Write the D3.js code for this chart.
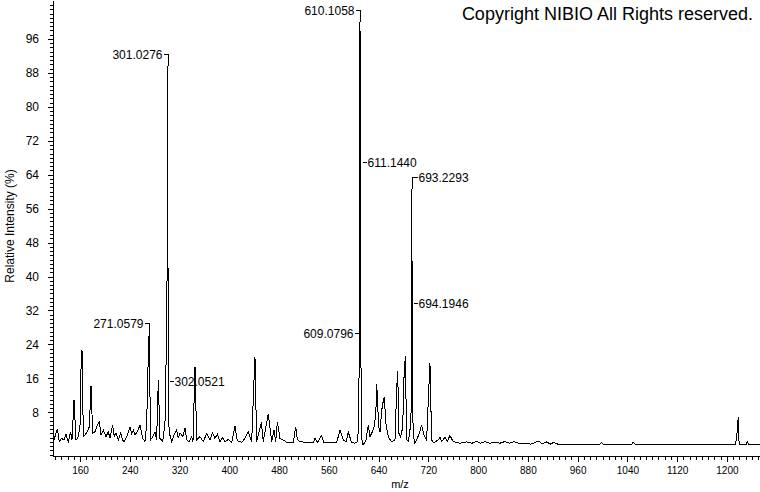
<!DOCTYPE html>
<html><head><meta charset="utf-8">
<script src="https://cdn.jsdelivr.net/npm/d3@7"></script>
<style>
body{margin:0;background:#fff}
svg{display:block;background:#fff}
text{font-family:"Liberation Sans",Arial,sans-serif;fill:#000}
</style>
</head><body>
<svg id="chart" width="760" height="492"></svg>
<script>
// ---- Data ----
const mzValues = [
 117,123.6,126.8,130.5,134.3,137.5,141.2,145,147.1,150.4,153.6,156.3,160,161.3,163.2,165.4,168,171.8,175,177.7,
 180.4,184.1,186.8,191.1,193.8,197.5,201.8,205.5,208.2,212.5,215.2,217.9,221.6,225.4,228.6,230.7,235,240.4,243.1,245.7,
 248.4,252.2,256.5,260.7,264.5,267.2,269.8,271.06,273.6,276.8,280.6,283.2,285.9,288.6,292.9,296.6,299.6,300.3,300.7,301.03,
 301.6,302.05,303.3,304.7,307.4,310.1,315.4,318.1,320.8,325.1,328.8,331.5,335.8,339.6,341.6,343.3,344.9,347.6,352.9,358.2,
 363.7,369,372.7,377,380.7,385,389.4,393.1,398.4,403.8,409.2,412.9,420,425.2,430.6,436,439.8,441.3,444,449.8,
 451.5,454.6,462.7,468.2,471.9,474.6,477.2,481.5,486.8,492.3,502.9,506.7,509.3,513.6,524.4,535,537.8,541.5,548.5,552.2,
 572.6,578,583.3,587.6,591.3,596.7,602,606,607.6,608.4,609.08,609.6,610.11,610.6,611.14,611.7,612.4,613.6,615.4,619.8,
 623.5,626.2,629.9,632.6,635.5,637,640.2,642.3,645,647.6,649.2,651.9,655.6,661,666.4,669.1,670.7,672.8,675.6,678.8,
 680.9,683,685.2,687.9,690.5,692.2,693.23,693.7,694.19,695.2,697.4,701.2,705.4,709.2,713,717.3,719.9,722.6,725.3,729.1,
 733.4,736,738.7,741.4,746.7,750.4,754.7,760,770,781.6,790,797.7,804,811,819,827.1,835,843.2,851,857.7,
 865,872.6,885,896.8,903,910.2,916,922,928,996,998.6,1001,1047,1049.4,1052,1214,1216.6,1218.2,1219.6,1231,
 1232.7,1234.5,1253.2
];
const intensities = [
 1.0,4.0,1.07,1.86,1.47,2.79,1.07,3.41,1.47,10.9,1.47,1.86,4.58,17.2,22.6,2.24,2.63,3.41,4.58,14.1,
 3.02,3.41,4.58,5.74,2.63,3.8,2.24,3.41,1.86,4.97,2.24,3.02,1.47,3.02,1.47,1.07,2.24,4.58,3.02,3.8,
 2.63,3.41,4.97,1.86,1.07,5.36,21.5,26.3,1.47,2.24,3.41,1.47,15.6,1.86,1.07,5.36,30,51,70,89.6,
 30,15.4,2.6,2.63,1.07,2.24,3.8,1.86,3.18,2.24,4.2,1.47,1.07,2.24,1.0,10.0,18.6,1.47,2.25,1.08,
 3.02,1.47,3.18,1.86,2.8,1.08,2.1,1.08,1.6,0.9,4.7,1.3,0.9,1.86,3.4,1.08,15.8,21.0,1.08,4.6,
 5.6,1.08,7.6,1.08,3.8,1.08,5.7,1.86,1.47,0.9,0.84,4.6,1.6,1.08,0.84,0.84,1.9,0.84,2.5,0.84,
 0.84,3.8,1.47,1.0,3.3,0.84,0.7,1.0,4.0,12.7,26.7,20,100,80,67,20,5,0.8,0.3,1.47,
 5.0,2.2,3.4,4.5,7.2,14.7,4.5,3.4,8.4,10.7,11.5,5.3,2.2,1.07,1.47,13.5,17.8,3.0,2.2,4.5,
 16.2,21.3,1.5,1.1,3.8,8,60.6,45,33.8,6,0.6,1.47,3.0,5.0,2.6,1.5,10.7,19.7,1.5,0.7,
 1.3,1.5,2.06,1.1,2.1,1.1,2.5,1.1,0.7,1.0,0.7,1.1,0.7,1.1,0.7,1.0,0.7,1.1,0.7,1.1,
 0.7,0.6,0.5,1.2,0.6,1.0,0.5,0.9,0.5,0.5,0.9,0.5,0.5,0.9,0.5,0.5,3.5,6.8,0.5,0.5,
 1.1,0.5,0.5
];
const labelTexts = ["301.0276","610.1058","271.0579","693.2293","611.1440","609.0796","694.1946","302.0521"];
const labelIntensities = [89.6,100,26.3,60.6,67,26.7,33.8,15.4];
const labelKinds = ["bracketLeft","bracketLeft","bracketLeft","bracketRight","sideRight","sideLeft","sideRight","sideRight"];
const xMajorTicks = [160,240,320,400,480,560,640,720,800,880,960,1040,1120,1200];
const xMinorTicks = d3.range(120, 1251, 10);
const yMajorTicks = [8,16,24,32,40,48,56,64,72,80,88,96];
const yMinorTicks = d3.range(-2, 105, 1);
const xTitle = "m/z";
const yTitle = "Relative Intensity (%)";
const copyright = "Copyright NIBIO All Rights reserved.";

// ---- Scales ----
const svg = d3.select("#chart");
const x = d3.scaleLinear().domain([116.6, 1253.2]).range([53, 760]);
const y = d3.scaleLinear().domain([0, 100]).range([446.2, 22]);
const yAxisScale = d3.scaleLinear().domain([y.invert(456), y.invert(0)]).range([456, 0]);
const axisY0 = 456;

// ---- Axes ----
const gx = svg.append("g").attr("transform", `translate(0,${axisY0})`);
gx.call(d3.axisBottom(x).tickValues(xMinorTicks).tickSize(4).tickSizeOuter(0).tickFormat(""));
const gxMaj = svg.append("g").attr("transform", `translate(0,${axisY0})`);
gxMaj.call(d3.axisBottom(x).tickValues(xMajorTicks).tickSize(6).tickSizeOuter(0).tickFormat(d3.format("d")));
gxMaj.select(".domain").remove();
gxMaj.selectAll("text").attr("y", 14).attr("dy", "0.35em").style("font-size", "10px")
  .style("font-family", '"Liberation Sans",Arial,sans-serif');

const gy = svg.append("g").attr("transform", "translate(53,0)");
gy.call(d3.axisLeft(yAxisScale).tickValues(yMinorTicks).tickSize(3).tickSizeOuter(0).tickFormat(""));
const gyMaj = svg.append("g").attr("transform", "translate(53,0)");
gyMaj.call(d3.axisLeft(yAxisScale).tickValues(yMajorTicks).tickSize(5).tickSizeOuter(0).tickPadding(9).tickFormat(d3.format("d")));
gyMaj.select(".domain").remove();
gyMaj.selectAll("text").style("font-size", "12px").style("font-family", '"Liberation Sans",Arial,sans-serif');
svg.selectAll(".tick line, .domain").attr("stroke", "#000").attr("shape-rendering", "crispEdges");

// ---- Spectrum ----
const pts = mzValues.map((m, i) => [m, intensities[i]]);
svg.append("path")
  .datum(pts)
  .attr("fill", "none")
  .attr("stroke", "#000")
  .attr("stroke-width", 1)
  .attr("shape-rendering", "crispEdges")
  .attr("d", d3.line().x(d => x(d[0])).y(d => y(d[1])));

// ---- Peak labels ----
const gl = svg.append("g");
labelTexts.forEach((t, i) => {
  const xp = Math.round(x(+t)) + 0.5;
  const yp = y(labelIntensities[i]);
  const kind = labelKinds[i];
  let ly, d, tx, anchor;
  if (kind === "bracketLeft") {
    ly = Math.round(yp - 12) + 0.5;
    d = `M${xp - 5},${ly}H${xp}V${yp}`; tx = xp - 6; anchor = "end";
  } else if (kind === "bracketRight") {
    ly = Math.round(yp - 12) + 0.5;
    d = `M${xp + 5},${ly}H${xp}V${yp}`; tx = xp + 6; anchor = "start";
  } else if (kind === "sideRight") {
    ly = Math.round(yp) + 0.5;
    d = `M${xp + 1},${ly}H${xp + 5}`; tx = xp + 6; anchor = "start";
  } else {
    ly = Math.round(yp) + 0.5;
    d = `M${xp - 5},${ly}H${xp - 1}`; tx = xp - 6; anchor = "end";
  }
  gl.append("path").attr("d", d).attr("fill", "none").attr("stroke", "#000")
    .attr("shape-rendering", "crispEdges");
  gl.append("text").attr("x", tx).attr("y", ly).attr("dy", "0.35em")
    .attr("text-anchor", anchor).style("font-size", "12px").text(t);
});

// ---- Titles ----
svg.append("text").attr("x", 400).attr("y", 484).attr("dy", "0.35em")
  .attr("text-anchor", "middle").style("font-size", "11px").text(xTitle);
svg.append("text").attr("transform", "translate(10,226) rotate(-90)").attr("dy", "0.35em")
  .attr("text-anchor", "middle").style("font-size", "12px").text(yTitle);
svg.append("text").attr("x", 753).attr("y", 19.5)
  .attr("text-anchor", "end").style("font-size", "18px").text(copyright);
</script>
</body></html>
